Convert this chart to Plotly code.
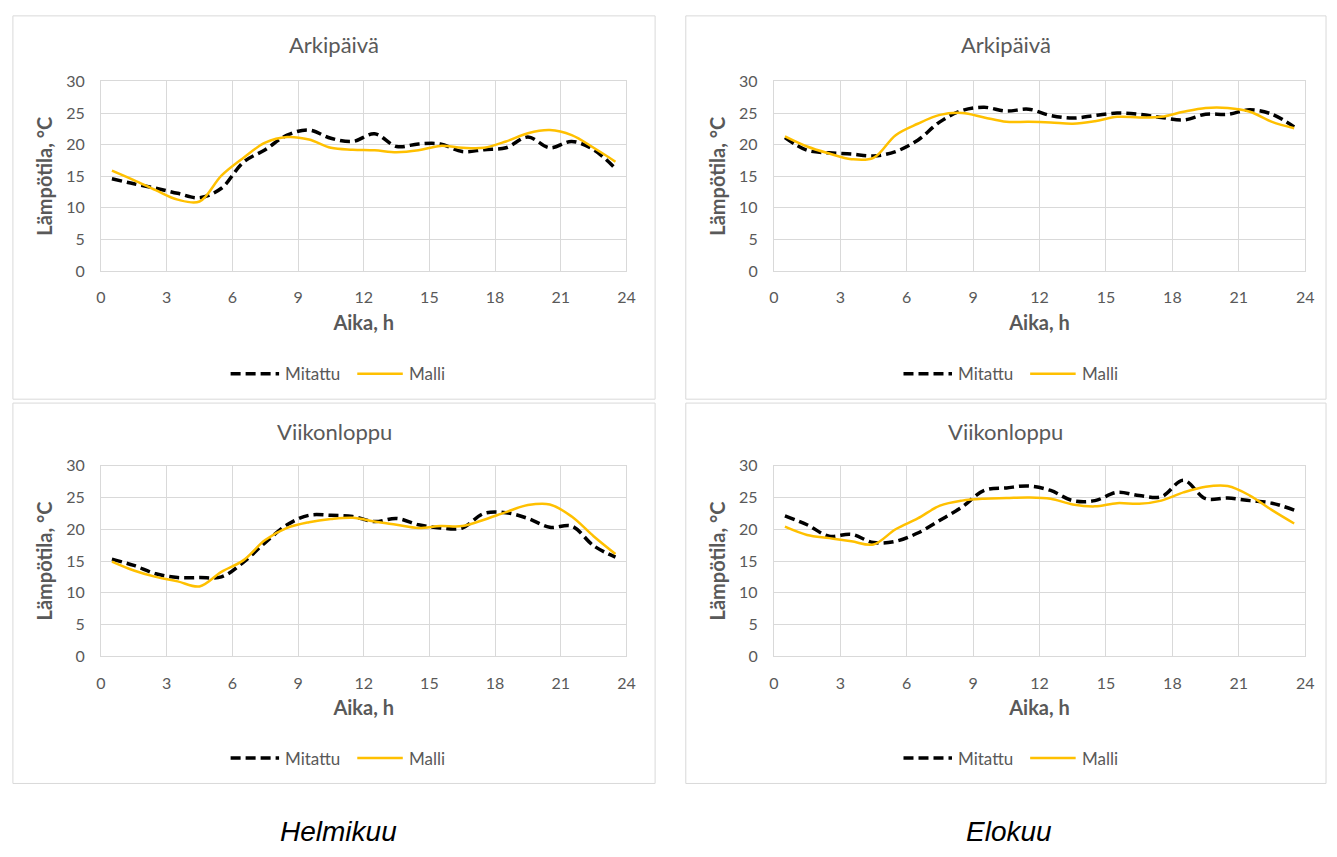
import plotly.graph_objects as go

W, H = 1337, 857

hours = [h + 0.5 for h in range(24)]

# Helmikuu (February)
feb_week_meas = [14.6, 13.8, 13.1, 12.3, 11.6, 13.1, 17.2, 19.2, 21.5, 22.3, 21.0, 20.5,
                 21.7, 19.7, 20.1, 20.1, 18.9, 19.2, 19.5, 21.2, 19.5, 20.5, 19.2, 16.2]
feb_week_model = [15.9, 14.4, 12.8, 11.3, 11.0, 15.1, 17.9, 20.3, 21.2, 20.8, 19.5, 19.2,
                  19.1, 18.8, 19.1, 19.8, 19.5, 19.5, 20.5, 21.8, 22.3, 21.5, 19.5, 17.3]
feb_wkend_meas = [15.3, 14.3, 13.0, 12.4, 12.4, 12.5, 14.8, 17.9, 20.7, 22.2, 22.2, 22.0,
                  21.2, 21.7, 20.7, 20.2, 20.2, 22.5, 22.6, 21.7, 20.3, 20.5, 17.4, 15.6]
feb_wkend_model = [14.9, 13.5, 12.5, 11.8, 11.0, 13.3, 15.1, 18.3, 20.2, 21.1, 21.6, 21.8,
                   21.2, 20.7, 20.2, 20.5, 20.5, 21.5, 22.7, 23.8, 23.9, 22.0, 18.9, 16.1]

# Elokuu (August)
aug_week_meas = [21.1, 19.1, 18.7, 18.5, 18.2, 18.9, 20.7, 23.6, 25.4, 25.9, 25.3, 25.6,
                 24.6, 24.2, 24.6, 25.0, 24.8, 24.3, 23.9, 24.8, 24.8, 25.5, 24.8, 22.8]
aug_week_model = [21.3, 19.7, 18.6, 17.7, 17.9, 21.5, 23.3, 24.7, 25.0, 24.3, 23.6, 23.6,
                  23.5, 23.3, 23.7, 24.4, 24.3, 24.4, 25.2, 25.8, 25.8, 25.2, 23.6, 22.6]
aug_wkend_meas = [22.1, 20.7, 18.9, 19.2, 17.9, 18.1, 19.4, 21.4, 23.5, 26.1, 26.5, 26.8,
                  26.1, 24.5, 24.5, 25.8, 25.3, 25.1, 27.7, 24.8, 24.9, 24.5, 24.1, 23.0]
aug_wkend_model = [20.4, 19.1, 18.6, 18.1, 17.6, 20.0, 21.7, 23.7, 24.5, 24.8, 24.9, 25.0,
                   24.8, 23.9, 23.6, 24.1, 24.0, 24.5, 25.8, 26.7, 26.8, 25.3, 23.0, 20.9]

series_names = ["Mitattu", "Malli"]
month_labels = ["Helmikuu", "Elokuu"]

panels = [
    # title, measured, model, plot box px (l, r, t, b), frame px (l, r, t, b), legend centre x
    ("Arkipäivä", feb_week_meas, feb_week_model, (97, 628, 73, 267), (8, 657, 6, 398), 335),
    ("Arkipäivä", aug_week_meas, aug_week_model, (777, 1314, 73, 267), (688, 1335, 6, 398), 1015),
    ("Viikonloppu", feb_wkend_meas, feb_wkend_model, (97, 628, 466, 661), (8, 657, 402, 791), 335),
    ("Viikonloppu", aug_wkend_meas, aug_wkend_model, (777, 1314, 466, 661), (688, 1335, 402, 791), 1015),
]

GRID = "#D9D9D9"
TXT = "#595959"
FONT = "Lato"
BLACK_DASH = dict(color="black", width=3.5, dash="10px,5px")
YELLOW = dict(color="#FFC000", width=2.5)


def px(x, y):
    return x / W, 1 - y / H


fig = go.Figure()
annotations = []
shapes = []
layout = {}

for i, (title, meas, model, box, frame, lc) in enumerate(panels, start=1):
    sfx = "" if i == 1 else str(i)
    l, r, t, b = box
    fl, fr, ft, fb = frame

    fig.add_trace(go.Scatter(x=hours, y=meas, name=series_names[0], mode="lines",
                             line=dict(shape="spline", **BLACK_DASH),
                             xaxis=f"x{sfx}", yaxis=f"y{sfx}", showlegend=False))
    fig.add_trace(go.Scatter(x=hours, y=model, name=series_names[1], mode="lines",
                             line=dict(shape="spline", **YELLOW),
                             xaxis=f"x{sfx}", yaxis=f"y{sfx}", showlegend=False))

    layout[f"xaxis{sfx}"] = dict(
        domain=[l / W, r / W], anchor=f"y{sfx}", range=[0, 24],
        tickvals=list(range(0, 25, 3)), showgrid=True, gridcolor=GRID, gridwidth=1,
        zeroline=False, showline=True, linecolor=GRID, mirror=True,
        ticks="outside", ticklen=12, tickcolor="rgba(0,0,0,0)",
        tickfont=dict(family=FONT, size=16, color=TXT),
        title=dict(text="<b>Aika, h</b>", font=dict(family=FONT, size=20, color=TXT), standoff=10),
        fixedrange=True)
    layout[f"yaxis{sfx}"] = dict(
        domain=[1 - b / H, 1 - t / H], anchor=f"x{sfx}", range=[0, 30],
        tickvals=list(range(0, 31, 5)), showgrid=True, gridcolor=GRID, gridwidth=1,
        zeroline=False, showline=True, linecolor=GRID, mirror=True,
        ticks="outside", ticklen=12, tickcolor="rgba(0,0,0,0)",
        tickfont=dict(family=FONT, size=16, color=TXT),
        title=dict(text="<b>Lämpötila, °C</b>", font=dict(family=FONT, size=20, color=TXT), standoff=8),
        fixedrange=True)

    # panel title
    tx, ty = px((fl + fr) / 2, ft + 29)
    annotations.append(dict(text=title, x=tx, y=ty, xref="paper", yref="paper",
                            showarrow=False, xanchor="center", yanchor="middle",
                            font=dict(family=FONT, size=22, color=TXT)))
    # panel frame
    x0, y1 = px(fl, ft)
    x1, y0 = px(fr, fb)
    shapes.append(dict(type="rect", xref="paper", yref="paper", x0=x0, x1=x1, y0=y0, y1=y1,
                       line=dict(color=GRID, width=1), fillcolor="rgba(0,0,0,0)", layer="below"))

    # legend (drawn like Excel: long line sample, text right after)
    ly = fb - 26
    for (s0, s1, tx0), name, style in zip([(lc - 107, lc - 58, lc - 54), (lc + 21, lc + 67, lc + 71)],
                                          series_names, [BLACK_DASH, YELLOW]):
        a0, yy = px(s0, ly)
        a1, _ = px(s1, ly)
        shapes.append(dict(type="line", xref="paper", yref="paper", x0=a0, x1=a1, y0=yy, y1=yy,
                           line=style))
        ax, _ = px(tx0, ly)
        annotations.append(dict(text=name, x=ax, y=yy, xref="paper", yref="paper",
                                showarrow=False, xanchor="left", yanchor="middle",
                                font=dict(family=FONT, size=17, color=TXT)))

for text, xpx in zip(month_labels, [337, 1015]):
    cx, cy = px(xpx, 840)
    annotations.append(dict(text=f"<i>{text}</i>", x=cx, y=cy, xref="paper", yref="paper",
                            showarrow=False, xanchor="center", yanchor="middle",
                            font=dict(family="Liberation Sans", size=28, color="black")))

fig.update_layout(width=W, height=H, margin=dict(l=0, r=0, t=0, b=0),
                  paper_bgcolor="white", plot_bgcolor="white",
                  annotations=annotations, shapes=shapes, **layout)

fig.write_html("out.html", config={"displayModeBar": False},
               post_script="document.body.style.margin='0px';")
